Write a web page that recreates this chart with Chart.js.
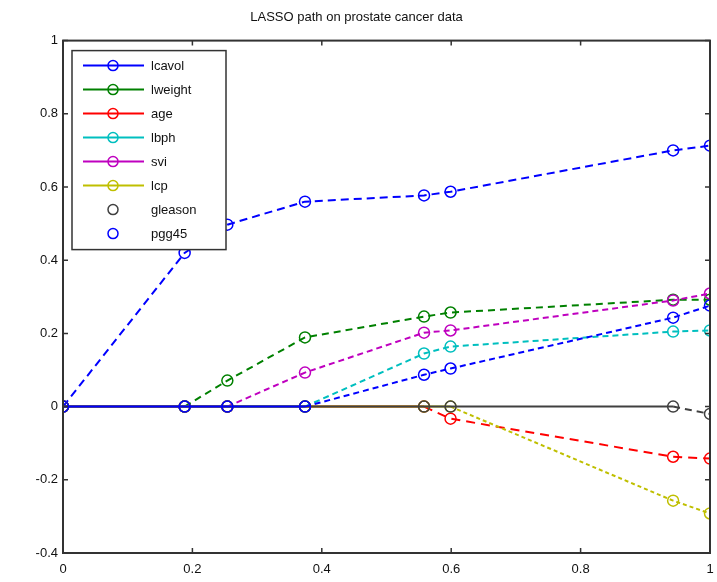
<!DOCTYPE html>
<html>
<head>
<meta charset="utf-8">
<script src="https://cdn.jsdelivr.net/npm/chart.js@4"></script>
<style>
  html, body { margin: 0; padding: 0; background: #fff; }
  #wrap { width: 717px; height: 582px; }
</style>
</head>
<body>
<div id="wrap"><canvas id="lassoPath"></canvas></div>
<script>
// fraction of the L1 norm at each knot of the path
const knots = [0, 0.188, 0.254, 0.374, 0.558, 0.599, 0.943, 1.0];

const lcavol  = [0, 0.42, 0.497, 0.56, 0.577, 0.587, 0.70, 0.713];
const lweight = [0, 0, 0.071, 0.189, 0.246, 0.257, 0.292, 0.292];
const age     = [0, 0, 0, 0, 0, -0.033, -0.137, -0.142];
const lbph    = [0, 0, 0, 0, 0.145, 0.164, 0.205, 0.208];
const svi     = [0, 0, 0, 0.093, 0.202, 0.208, 0.29, 0.309];
const lcp     = [0, 0, 0, 0, 0, 0, -0.257, -0.292];
const gleason = [0, 0, 0, 0, 0, 0, 0, -0.02];
const pgg45   = [0, 0, 0, 0, 0.087, 0.104, 0.243, 0.276];

const names = ['lcavol', 'lweight', 'age', 'lbph', 'svi', 'lcp', 'gleason', 'pgg45'];
const series = [lcavol, lweight, age, lbph, svi, lcp, gleason, pgg45];

const colors = ['#0000ff', '#008000', '#ff0000', '#00bfbf', '#bf00bf', '#bfbf00', '#404040', '#0000ff'];
const dashes = [[8, 5], [7, 5], [9, 6], [6, 4], [6, 4], [4, 3], [7, 5], [6, 4]];
const legendLine = [true, true, true, true, true, true, false, false];

const FONT = 'Liberation Sans, Arial, sans-serif';

const datasets = series.map((vals, i) => ({
  label: names[i],
  data: vals.map((v, k) => ({ x: knots[k], y: v })),
  borderColor: colors[i],
  backgroundColor: 'rgba(0,0,0,0)',
  borderWidth: 2,
  pointStyle: 'circle',
  pointRadius: 5.5,
  pointBorderWidth: 1.5,
  pointBorderColor: colors[i],
  pointBackgroundColor: 'rgba(0,0,0,0)',
  tension: 0,
  order: series.length - i,
  segment: {
    // flat segments sitting on zero are solid, the rest dashed
    borderDash: ctx => (ctx.p0.parsed.y === 0 && ctx.p1.parsed.y === 0) ? [] : dashes[i]
  }
}));

// box round the axes with inward ticks, matlab style
const frame = {
  id: 'frame',
  afterDatasetsDraw(chart) {
    const { ctx, chartArea: a, scales } = chart;
    ctx.save();
    ctx.strokeStyle = '#333';
    ctx.lineWidth = 2;
    ctx.strokeRect(a.left, a.top, a.right - a.left, a.bottom - a.top);
    ctx.lineWidth = 1.5;
    ctx.beginPath();
    scales.x.ticks.forEach(t => {
      const px = scales.x.getPixelForValue(t.value);
      ctx.moveTo(px, a.bottom); ctx.lineTo(px, a.bottom - 5);
      ctx.moveTo(px, a.top); ctx.lineTo(px, a.top + 5);
    });
    scales.y.ticks.forEach(t => {
      const py = scales.y.getPixelForValue(t.value);
      ctx.moveTo(a.left, py); ctx.lineTo(a.left + 5, py);
      ctx.moveTo(a.right, py); ctx.lineTo(a.right - 5, py);
    });
    ctx.stroke();
    ctx.restore();
  }
};

// legend box drawn inside the upper left corner
const insideLegend = {
  id: 'insideLegend',
  afterDraw(chart) {
    const { ctx, chartArea: a } = chart;
    const x0 = a.left + 9, y0 = a.top + 10, w = 154, h = 199;
    ctx.save();
    ctx.fillStyle = '#fff';
    ctx.fillRect(x0, y0, w, h);
    ctx.strokeStyle = '#333';
    ctx.lineWidth = 1.5;
    ctx.strokeRect(x0, y0, w, h);
    ctx.font = '13px ' + FONT;
    ctx.textBaseline = 'middle';
    chart.data.datasets.forEach((ds, i) => {
      const y = y0 + 15 + i * 24;
      ctx.strokeStyle = ds.borderColor;
      ctx.lineWidth = 2;
      if (legendLine[i]) {
        ctx.beginPath();
        ctx.moveTo(x0 + 11, y); ctx.lineTo(x0 + 72, y);
        ctx.stroke();
      }
      ctx.lineWidth = 1.5;
      ctx.beginPath();
      ctx.arc(x0 + 41, y, 5, 0, Math.PI * 2);
      ctx.stroke();
      ctx.fillStyle = '#111';
      ctx.fillText(ds.label, x0 + 79, y + 1);
    });
    ctx.restore();
  }
};

new Chart(document.getElementById('lassoPath'), {
  type: 'line',
  data: { datasets },
  options: {
    responsive: true,
    maintainAspectRatio: false,
    animation: false,
    layout: { padding: { left: 0, right: 4, top: 0, bottom: 0 } },
    plugins: {
      legend: { display: false },
      tooltip: { enabled: false },
      title: {
        display: true,
        text: 'LASSO path on prostate cancer data',
        color: '#111',
        font: { family: FONT, size: 13, weight: 'normal', lineHeight: 1.2 },
        padding: { top: 10, bottom: 15 }
      }
    },
    scales: {
      x: {
        type: 'linear',
        min: 0,
        max: 1,
        border: { display: false },
        grid: { display: false, drawTicks: false },
        ticks: {
          stepSize: 0.2,
          padding: 9,
          color: '#111',
          font: { family: FONT, size: 13 },
          callback: v => String(Math.round(v * 10) / 10)
        },
        afterFit: s => { s.height = 29; s.paddingLeft = 0; s.paddingRight = 0; }
      },
      y: {
        type: 'linear',
        min: -0.4,
        max: 1,
        border: { display: false },
        grid: { display: false, drawTicks: false },
        ticks: {
          stepSize: 0.2,
          padding: 5,
          color: '#111',
          font: { family: FONT, size: 13 },
          callback: v => String(Math.round(v * 10) / 10)
        },
        afterFit: s => { s.width = 63; s.paddingTop = 0; s.paddingBottom = 0; }
      }
    }
  },
  plugins: [frame, insideLegend]
});
</script>
</body>
</html>
